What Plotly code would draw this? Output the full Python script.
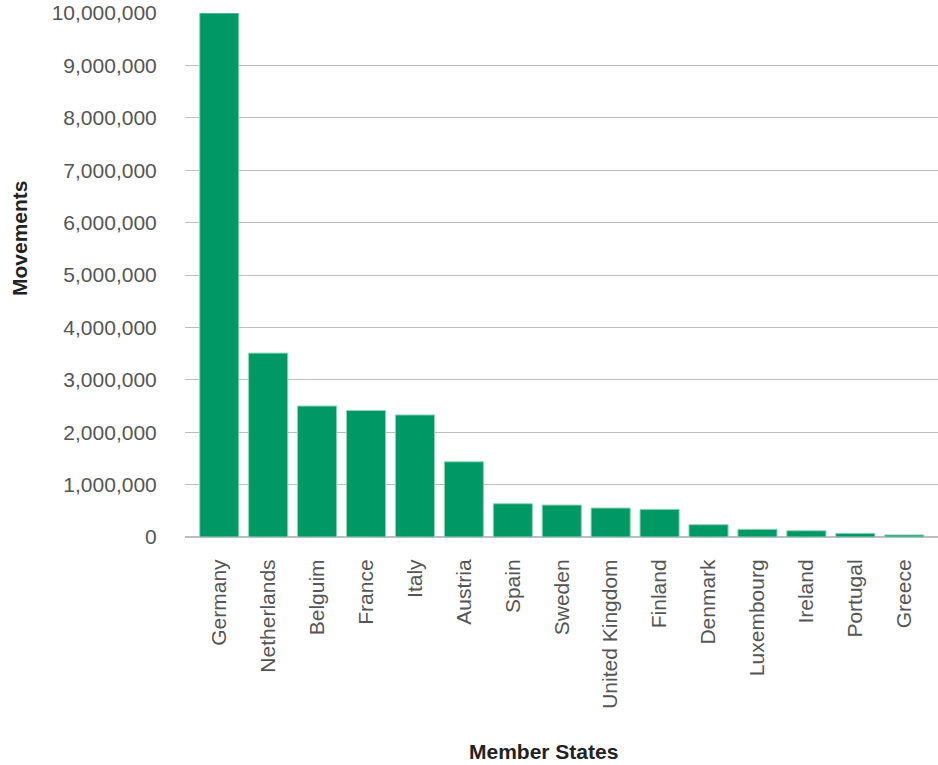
import plotly.graph_objects as go

countries = ["Germany", "Netherlands", "Belguim", "France", "Italy", "Austria", "Spain",
             "Sweden", "United Kingdom", "Finland", "Denmark", "Luxembourg", "Ireland",
             "Portugal", "Greece"]
movements = [10000000, 3510000, 2500000, 2415000, 2330000, 1436000, 635000,
             610000, 553000, 528000, 235000, 147000, 120000, 70000, 40000]
y_ticks = [0, 1000000, 2000000, 3000000, 4000000, 5000000, 6000000, 7000000,
           8000000, 9000000, 10000000]

W, H = 938, 765
L, R, T, B = 185, 0, 13, 228
pw, ph = W - L - R, H - T - B

fig = go.Figure(go.Bar(
    x=countries, y=movements,
    marker=dict(color="#009966", line=dict(color="#8fd6b8", width=1)),
    hoverinfo="x+y",
))

font = "Liberation Sans, Arial, sans-serif"
fig.update_layout(
    width=W, height=H,
    margin=dict(l=L, r=R, t=T, b=B, pad=0),
    paper_bgcolor="white", plot_bgcolor="white",
    bargap=0.2,
    showlegend=False,
    font=dict(family=font, size=21, color="#555"),
    xaxis=dict(
        range=[-0.7, 14.69], tickangle=-90, showgrid=False, zeroline=False,
        showline=False, ticks="outside", ticklen=13, tickcolor="rgba(0,0,0,0)",
        tickfont=dict(size=21, color="#555"),
    ),
    yaxis=dict(
        range=[0, 10000000], tickvals=y_ticks, tickformat=",d",
        showgrid=True, gridcolor="#bdbdbd", gridwidth=1,
        zeroline=True, zerolinecolor="#bdbdbd", zerolinewidth=1.5,
        showline=False, ticks="outside", ticklen=23, tickcolor="rgba(0,0,0,0)",
        tickfont=dict(size=21, color="#555"),
    ),
    annotations=[
        dict(text="<b>Member States</b>", xref="paper", yref="paper",
             x=(543 - L) / pw, y=(537 - 751) / ph, showarrow=False,
             xanchor="center", yanchor="middle",
             font=dict(size=21, color="#222", family=font)),
        dict(text="<b>Movements</b>", xref="paper", yref="paper",
             x=(19 - L) / pw, y=(537 - 238) / ph, showarrow=False, textangle=-90,
             xanchor="center", yanchor="middle",
             font=dict(size=21, color="#222", family=font)),
    ],
)

fig.write_html("out.html")
